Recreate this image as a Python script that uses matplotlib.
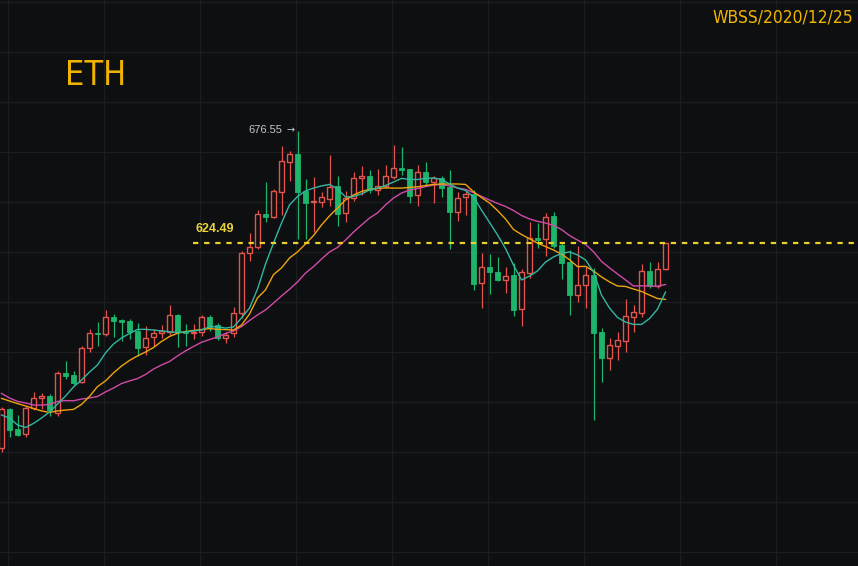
import matplotlib
matplotlib.use('Agg')
import matplotlib.pyplot as plt
from matplotlib.patches import Rectangle
import numpy as np

# ETH 4h candles
opens = [529.5, 547.7, 538.6, 536.0, 548.0, 552.7, 553.6, 545.6, 564.2, 563.3,
         560.2, 575.8, 583.1, 582.3, 590.2, 589.0, 588.5, 583.9, 576.2, 580.9,
         582.8, 583.4, 591.3, 583.5, 582.7, 583.2, 590.2, 586.6, 580.5, 582.7,
         592.1, 619.9, 622.7, 638.0, 636.8, 648.4, 662.3, 665.9, 648.9, 643.5,
         643.8, 645.0, 651.1, 638.4, 645.3, 654.6, 655.7, 649.2, 651.1, 655.4,
         659.4, 658.8, 646.7, 657.4, 653.1, 654.8, 650.8, 638.8, 645.8, 647.4,
         605.9, 613.7, 611.0, 607.5, 609.7, 593.9, 610.9, 626.8, 626.4, 637.2,
         623.7, 615.8, 600.5, 605.0, 609.8, 583.4, 571.5, 577.0, 579.4, 590.5,
         592.4, 611.7, 604.7, 612.5]
highs = [548.6, 548.2, 544.8, 549.1, 555.4, 554.9, 554.6, 565.4, 569.8, 565.3,
         577.1, 584.6, 588.0, 593.4, 591.7, 589.6, 589.3, 587.4, 586.2, 584.6,
         586.5, 595.9, 591.7, 587.2, 587.1, 591.3, 591.3, 587.4, 583.5, 595.1,
         621.1, 629.4, 639.9, 652.8, 649.5, 669.6, 667.4, 676.55, 654.3, 655.1,
         648.4, 665.4, 655.7, 648.8, 657.6, 660.4, 658.3, 659.0, 660.8, 670.1,
         669.0, 659.0, 660.8, 662.1, 655.7, 655.7, 658.5, 648.4, 648.9, 649.2,
         619.9, 619.4, 618.3, 613.7, 615.2, 612.5, 634.5, 634.1, 638.4, 639.2,
         625.2, 621.4, 623.3, 613.7, 612.9, 585.1, 580.7, 583.5, 598.5, 595.8,
         615.0, 615.7, 616.0, 624.6]
lows = [527.8, 534.7, 535.2, 534.5, 547.2, 547.5, 544.4, 544.4, 561.7, 558.8,
        559.7, 574.3, 577.0, 581.5, 581.2, 579.2, 580.1, 572.3, 572.5, 576.9,
        580.5, 581.9, 576.3, 577.0, 580.1, 581.5, 583.9, 579.7, 578.2, 581.2,
        589.9, 616.4, 621.7, 634.5, 636.2, 637.6, 653.4, 626.5, 626.5, 629.9,
        641.2, 641.8, 632.5, 634.6, 644.3, 646.7, 647.7, 646.9, 650.1, 654.5,
        656.2, 643.1, 641.8, 651.5, 643.3, 646.0, 621.7, 634.8, 637.6, 602.9,
        594.7, 600.9, 607.0, 601.3, 590.9, 586.2, 608.3, 622.2, 618.6, 622.3,
        607.8, 591.3, 597.4, 594.4, 542.6, 560.3, 565.8, 570.4, 574.3, 583.2,
        590.5, 603.6, 603.8, 612.1]
closes = [547.7, 538.1, 535.8, 548.0, 552.7, 553.6, 547.2, 564.2, 563.0, 559.9,
          575.8, 582.8, 582.3, 590.2, 588.6, 588.2, 583.6, 576.1, 580.8, 582.8,
          583.7, 591.1, 583.2, 582.8, 583.5, 590.2, 585.8, 580.5, 582.2, 592.2,
          619.9, 622.7, 638.0, 636.8, 648.8, 662.5, 665.9, 648.4, 643.3, 644.3,
          646.1, 650.8, 638.1, 645.4, 654.6, 655.7, 649.2, 651.3, 655.7, 659.3,
          658.5, 646.4, 657.4, 653.1, 654.6, 650.3, 638.8, 645.7, 647.4, 605.6,
          613.7, 611.0, 607.3, 609.5, 593.6, 611.0, 626.8, 626.0, 636.8, 623.3,
          615.5, 600.5, 605.2, 609.8, 583.1, 571.5, 577.4, 579.7, 590.8, 592.7,
          611.7, 604.7, 612.5, 624.49]

# moving average lines as drawn
ma_fast = [544.9, 543.5, 540.3, 539.1, 541.0, 543.5, 546.3, 550.0, 553.7, 557.9,
           561.1, 564.8, 568.1, 573.7, 577.8, 580.6, 582.7, 584.6, 584.6, 584.3,
           583.9, 583.5, 583.2, 583.4, 583.9, 584.3, 585.8, 585.8, 585.2, 585.7,
           589.9, 594.5, 603.3, 614.9, 624.6, 633.9, 642.3, 646.2, 648.8, 650.1,
           651.1, 651.8, 649.7, 646.0, 646.2, 647.4, 649.2, 650.1, 651.3, 652.9,
           654.6, 654.1, 654.1, 654.6, 654.8, 654.1, 652.0, 650.1, 649.0, 646.0,
           639.9, 634.2, 628.4, 622.1, 614.4, 607.5, 609.3, 611.7, 615.8, 618.2,
           619.8, 620.5, 619.1, 616.8, 611.2, 600.5, 594.5, 590.1, 588.0, 586.9,
           586.9, 589.6, 594.0, 601.9]
ma_mid = [552.6, 551.4, 550.2, 549.1, 547.9, 546.8, 546.1, 546.8, 547.2, 547.5,
          549.8, 553.5, 558.1, 560.7, 564.4, 567.6, 570.2, 572.3, 574.1, 576.2,
          579.0, 581.3, 582.8, 583.6, 584.1, 584.5, 585.0, 584.6, 584.5, 584.3,
          586.6, 591.7, 599.2, 602.9, 610.0, 613.1, 617.7, 620.5, 624.2, 628.1,
          633.0, 637.2, 640.9, 644.6, 646.9, 648.5, 649.5, 649.9, 650.2, 650.1,
          650.1, 650.4, 650.7, 651.3, 651.8, 652.0, 652.0, 652.0, 651.8, 648.4,
          645.7, 643.2, 639.7, 635.8, 630.9, 628.6, 626.6, 624.6, 623.0, 621.4,
          619.5, 616.9, 613.7, 613.8, 611.7, 608.9, 606.6, 604.7, 604.5, 603.3,
          602.2, 600.5, 598.9, 598.5]
ma_slow = [554.9, 552.8, 551.2, 550.5, 549.5, 549.5, 549.8, 551.2, 551.6, 551.5,
           552.3, 552.8, 553.5, 555.6, 557.4, 559.5, 560.7, 561.8, 563.7, 566.2,
           568.1, 569.7, 572.3, 574.6, 576.7, 578.6, 579.9, 581.1, 582.7, 583.9,
           585.9, 588.7, 591.3, 593.6, 596.8, 600.1, 603.2, 606.6, 610.7, 613.7,
           617.2, 620.5, 622.6, 626.0, 629.7, 633.0, 636.2, 638.6, 642.3, 645.5,
           647.8, 649.2, 649.9, 650.8, 651.5, 651.8, 651.1, 650.2, 649.5, 648.0,
           646.2, 644.6, 643.0, 641.6, 639.7, 637.4, 635.8, 634.7, 633.9, 632.8,
           630.9, 628.1, 626.0, 624.0, 620.6, 616.1, 613.1, 610.3, 607.5, 604.7,
           604.8, 604.7, 604.6, 605.4]

last_price = 624.49
high_price = 676.55
line_start = 24

bg = '#0e0f11'
grid_c = '#1b1d20'
up_c = '#e4544e'
down_c = '#1fb46c'
gold = '#f0b400'

fig = plt.figure(figsize=(8.58, 5.66), dpi=100, facecolor=bg)
ax = fig.add_axes([0, 0, 1, 1])
ax.set_facecolor(bg)

# pixel mapping of the original chart: x = 1.5 + 8*i, price = 737.3 - 0.4636*y
ax.set_xlim(-0.1875, 107.06)
ax.set_ylim(474.9, 737.3)

for k in range(10):
    ax.axvline(0.8125 + 12 * k, color=grid_c, lw=1, zorder=0)
for k in range(12):
    ax.axhline(736.37 - 23.18 * k, color=grid_c, lw=1, zorder=0)

x = np.arange(len(closes))
w = 0.55
min_h = 0.5
for i in x:
    o, h, l, c = opens[i], highs[i], lows[i], closes[i]
    if c >= o:
        ax.vlines(i, l, h, color=up_c, lw=0.9, zorder=2)
        ax.add_patch(Rectangle((i - w / 2, o), w, max(c - o, min_h),
                               facecolor=bg, edgecolor=up_c, lw=1, zorder=3))
    else:
        ax.vlines(i, l, h, color=down_c, lw=0.9, zorder=2)
        ax.add_patch(Rectangle((i - w / 2, c), w, max(o - c, min_h),
                               facecolor=down_c, edgecolor=down_c, lw=0.6, zorder=3))

ax.plot(x, ma_slow, color='#d14aa9', lw=1.0, zorder=4)
ax.plot(x, ma_mid, color='#eea30c', lw=1.0, zorder=4)
ax.plot(x, ma_fast, color='#33b7a2', lw=1.0, zorder=4)

# last price line
ax.plot([line_start - 0.05, 107.06], [last_price, last_price], color='#e8d12c',
        lw=1.6, ls=(0, (2.4, 2.6)), zorder=5)
ax.text(line_start + 0.2, last_price + 6.5, '%.2f' % last_price, color='#ecd33a',
        fontsize=9, fontweight='bold', family=['Liberation Sans', 'DejaVu Sans'],
        va='center', ha='left', zorder=6)
ax.text(30.8, high_price + 0.5, '%.2f' % high_price, color='#c4c7cc',
        fontsize=8, family=['Liberation Sans', 'DejaVu Sans'],
        va='center', ha='left', zorder=6)
ax.text(36.1, high_price + 0.3, '\u2192', color='#c4c7cc',
        fontsize=7, family=['DejaVu Sans'], va='center', ha='center', zorder=6)

fig.text(65 / 858, 1 - 75 / 566, 'ETH', color=gold, fontsize=24.5,
         family=['DejaVu Sans'], fontstretch='condensed', va='center', ha='left')
fig.text(853 / 858, 1 - 17 / 566, 'WBSS/2020/12/25', color=gold, fontsize=12.5,
         family=['DejaVu Sans'], fontstretch='condensed', va='center', ha='right')

ax.set_xticks([])
ax.set_yticks([])
for s in ax.spines.values():
    s.set_visible(False)

fig.savefig('out.png', dpi=100, facecolor=bg)
